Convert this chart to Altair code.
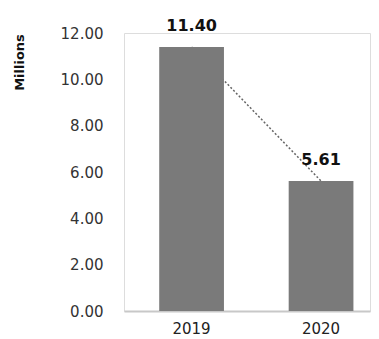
import altair as alt
import pandas as pd

# Yearly totals, in millions
years = ["2019", "2020"]
values = [11.40, 5.61]

df = pd.DataFrame({"year": years, "value": values})

x_enc = alt.X(
    "year:N",
    sort=years,
    scale=alt.Scale(paddingInner=0.5, paddingOuter=0.2, align=0.68),
    axis=alt.Axis(
        title=None, labelAngle=0, ticks=False, domainColor="#c8c8c8",
        domainWidth=2, labelFont="DejaVu Sans", labelFontSize=15,
        labelColor="#222222", labelPadding=10,
    ),
)
y_enc = alt.Y(
    "value:Q",
    scale=alt.Scale(domain=[0, 12]),
    axis=alt.Axis(
        title="Millions", format=".2f", values=[0, 2, 4, 6, 8, 10, 12],
        grid=False, ticks=False, domain=False,
        labelFont="DejaVu Sans", labelFontSize=15, labelColor="#333333",
        labelPadding=21,
        titleFont="DejaVu Sans", titleFontSize=13, titleFontWeight="bold",
        titleColor="#111111", titleAngle=-90, titleX=-105, titleY=29,
        titleAlign="center", titleBaseline="middle",
    ),
)

base = alt.Chart(df).encode(x=x_enc, y=y_enc)

trend = base.mark_line(color="#666666", strokeDash=[2, 2], strokeWidth=1.5)
bars = base.mark_bar(color="#7a7a7a")
labels = base.mark_text(
    dy=-13, baseline="bottom", font="DejaVu Sans", fontSize=16,
    fontWeight="bold", color="#111111",
).encode(text=alt.Text("value:Q", format=".2f"))

chart = (
    alt.layer(trend, bars, labels)
    .properties(
        width=246, height=278,
        autosize=alt.AutoSizeParams(type="none"),
        padding={"left": 124, "top": 33, "right": 9, "bottom": 28},
    )
    .configure_view(stroke=None)
    .configure(background="white")
)

chart.save("out.html", embed_options={"renderer": "svg", "actions": False})
